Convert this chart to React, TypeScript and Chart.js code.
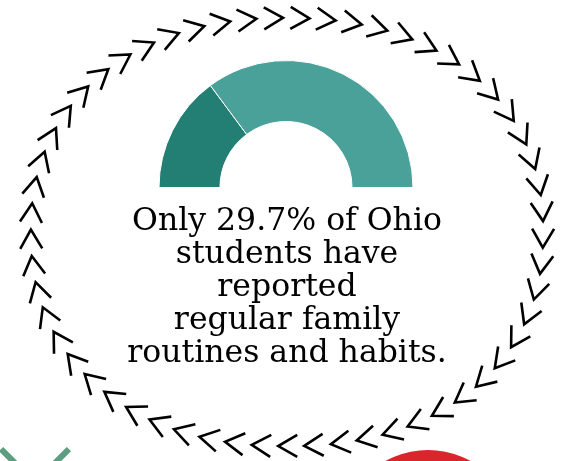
import React, { useEffect, useRef } from "react";
import { Chart, registerables } from "chart.js";

Chart.register(...registerables);

// ---- data ----
const categories = ["Regular family routines and habits", "No regular routines reported"];
const values = [29.7, 70.3];
const textLines = [
  `Only ${values[0]}% of Ohio`,
  "students have",
  "reported",
  "regular family",
  "routines and habits.",
];

// ---- styles ----
const segmentColors = ["#237e73", "#4aa199"];
const CHEVRON_COUNT = 57;

function ringPoint(t: number) {
  const cx = 287, cy = 232, rx = 256, ry = 214, e = 2 / 2.2;
  const c = Math.cos(t), s = Math.sin(t);
  return {
    x: cx + rx * Math.sign(c) * Math.pow(Math.abs(c), e),
    y: cy + ry * Math.sign(s) * Math.pow(Math.abs(s), e),
  };
}

const decorPlugin = {
  id: "decor",
  beforeDraw(chart: any) {
    const ctx: CanvasRenderingContext2D = chart.ctx;
    ctx.save();
    // sample ring for arc-length spacing (start at top, clockwise)
    const S = 4000;
    const pts: { x: number; y: number }[] = [];
    const cum: number[] = [0];
    for (let i = 0; i <= S; i++) {
      pts.push(ringPoint(-Math.PI / 2 + (i / S) * Math.PI * 2));
      if (i > 0) {
        const a = pts[i - 1], b = pts[i];
        cum.push(cum[i - 1] + Math.hypot(b.x - a.x, b.y - a.y));
      }
    }
    const L = cum[S];
    const step = L / CHEVRON_COUNT;
    ctx.strokeStyle = "#000";
    ctx.lineWidth = 2.6;
    ctx.lineJoin = "miter";
    ctx.lineCap = "butt";
    const d = 19, h = 22;
    let j = 0;
    for (let i = 0; i < CHEVRON_COUNT; i++) {
      const target = 13 + i * step;
      while (j < S - 1 && cum[j + 1] < target) j++;
      const p = pts[j];
      const pa = pts[Math.max(0, j - 5)];
      const pb = pts[Math.min(S, j + 5)];
      const a = Math.atan2(pb.y - pa.y, pb.x - pa.x);
      ctx.save();
      ctx.translate(p.x, p.y);
      ctx.rotate(a);
      ctx.beginPath();
      ctx.moveTo(-d / 2, -h / 2);
      ctx.lineTo(d / 2, 0);
      ctx.lineTo(-d / 2, h / 2);
      ctx.stroke();
      ctx.restore();
    }
    // green X (bottom-left, mostly off-canvas)
    ctx.strokeStyle = "#5c9f80";
    ctx.lineWidth = 6;
    const k = 48 / Math.SQRT2;
    ctx.beginPath();
    ctx.moveTo(35 - k, 483 - k);
    ctx.lineTo(35 + k, 483 + k);
    ctx.moveTo(35 + k, 483 - k);
    ctx.lineTo(35 - k, 483 + k);
    ctx.stroke();
    // red circle (bottom-right, mostly off-canvas)
    ctx.fillStyle = "#d9262c";
    ctx.beginPath();
    ctx.arc(428, 538, 88, 0, Math.PI * 2);
    ctx.fill();
    ctx.restore();
  },
};

export default function App() {
  const canvasRef = useRef<HTMLCanvasElement | null>(null);

  useEffect(() => {
    if (!canvasRef.current) return;
    const chart = new Chart(canvasRef.current, {
      type: "doughnut",
      data: {
        labels: categories,
        datasets: [
          {
            data: values,
            backgroundColor: segmentColors,
            borderColor: "#ffffff",
            borderWidth: 1,
          },
        ],
      },
      options: {
        responsive: false,
        animation: false,
        rotation: -90,
        circumference: 180,
        cutout: "52%",
        layout: { padding: { left: 158, right: 153, top: 60, bottom: 273 } },
        plugins: {
          legend: { display: false },
          tooltip: { enabled: false },
          title: { display: false },
        },
      },
      plugins: [decorPlugin],
    });
    return () => chart.destroy();
  }, []);

  return (
    <div
      style={{
        position: "fixed",
        left: 0,
        top: 0,
        width: 567,
        height: 461,
        background: "#fff",
        overflow: "hidden",
      }}
    >
      <canvas ref={canvasRef} width={567} height={461} style={{ position: "absolute", left: 0, top: 0 }} />
      <div
        style={{
          position: "absolute",
          left: 0,
          top: 202.6,
          width: 574,
          textAlign: "center",
          fontFamily: '"DejaVu Serif", serif',
          fontSize: 31.5,
          lineHeight: "33px",
          color: "#000",
          whiteSpace: "nowrap",
        }}
      >
        {textLines.map((l, i) => (
          <div key={i}>{l}</div>
        ))}
      </div>
    </div>
  );
}
